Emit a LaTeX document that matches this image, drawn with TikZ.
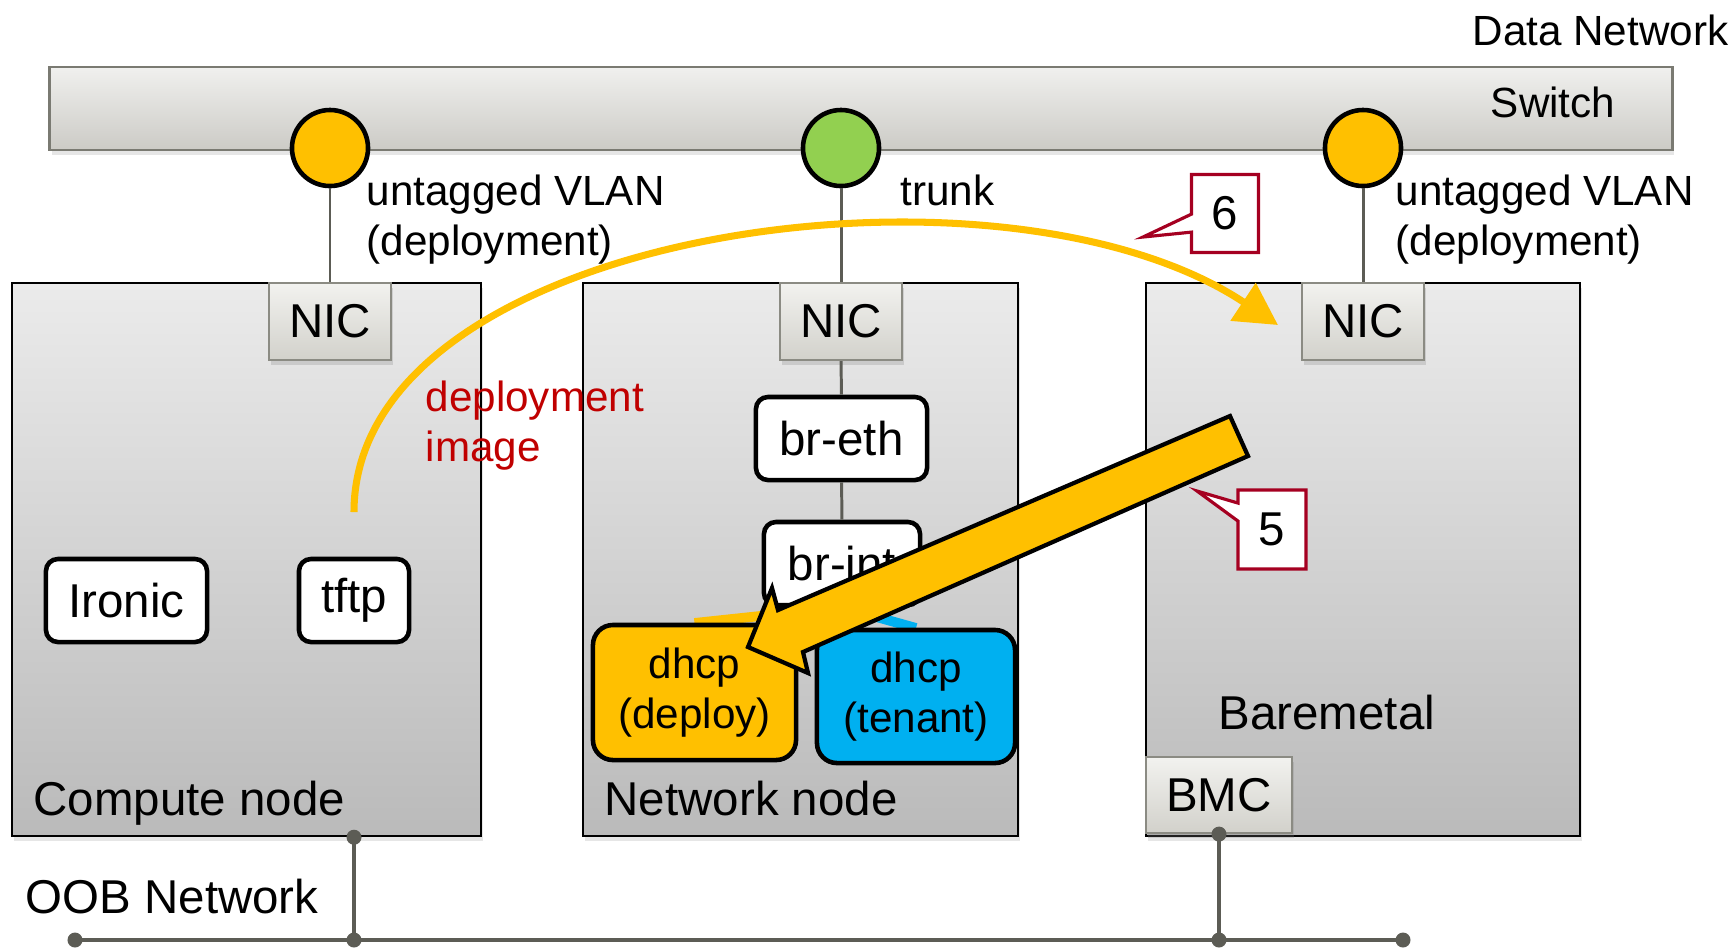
\documentclass[tikz,border=0pt]{standalone}
\usepackage{fontspec}
\setmainfont{Liberation Sans}
\usepackage{xcolor}
\usepackage{tikz}
\usetikzlibrary{arrows.meta, positioning, calc, shadows, shapes.callouts}
\definecolor{deployYellow}{RGB}{255,192,0}
\definecolor{trunkGreen}{RGB}{146,208,80}
\definecolor{tenantBlue}{RGB}{0,176,240}
\definecolor{alertRed}{RGB}{192,0,0}
\definecolor{calloutRed}{RGB}{165,0,33}
\definecolor{wireGray}{RGB}{92,92,85}
\definecolor{hostTop}{RGB}{235,235,235}
\definecolor{hostBot}{RGB}{186,186,186}
\definecolor{nicTop}{RGB}{242,242,239}
\definecolor{nicBot}{RGB}{210,209,203}
\definecolor{nicEdge}{RGB}{139,139,131}
\definecolor{switchTop}{RGB}{240,240,238}
\definecolor{switchBot}{RGB}{204,203,198}
\definecolor{switchEdge}{RGB}{122,122,114}
\newcommand{\lblfont}{\fontsize{12}{14.4}\selectfont}
\newcommand{\boxfont}{\fontsize{13.5}{16}\selectfont}

\begin{document}
\begin{tikzpicture}[x=0.01cm, y=-0.01cm,
  hostbox/.style={rectangle, draw=black, line width=0.6pt, top color=hostTop, bottom color=hostBot,
                  minimum height=5.53cm,
                  drop shadow={shadow xshift=0.02cm, shadow yshift=-0.05cm, opacity=0.2}},
  switchbar/.style={rectangle, draw=switchEdge, line width=0.7pt, top color=switchTop, bottom color=switchBot,
                    minimum width=16.22cm, minimum height=0.83cm,
                    drop shadow={shadow xshift=0.02cm, shadow yshift=-0.05cm, opacity=0.2}},
  nicbox/.style={rectangle, draw=nicEdge, line width=0.6pt, top color=nicTop, bottom color=nicBot,
                 minimum width=1.22cm, minimum height=0.77cm, font=\boxfont,
                 drop shadow={shadow xshift=0.02cm, shadow yshift=-0.05cm, opacity=0.25}},
  svcbox/.style={rectangle, rounded corners=0.12cm, draw=black, line width=1.3pt, fill=white,
                 minimum height=0.83cm, font=\boxfont},
  dhcpbox/.style={rectangle, rounded corners=0.2cm, draw=black, line width=1.3pt,
                  minimum height=1.35cm, font=\lblfont, align=center},
  port/.style={circle, draw=black, line width=1.3pt, minimum size=0.76cm, inner sep=0pt},
  wire/.style={draw=wireGray, line width=0.85pt},
  oobwire/.style={draw=wireGray, line width=1.2pt},
  callbox/.style={rectangle callout, draw=calloutRed, line width=0.9pt, fill=white,
                  font=\boxfont, callout pointer width=0.18cm},
  deployarrow/.style={draw=deployYellow, line width=2pt, -{Triangle[length=0.42cm, width=0.44cm]}},
  bigarrow/.style={fill=deployYellow, draw=black, line width=1.2pt, line join=miter},
  lbl/.style={inner sep=0pt, font=\lblfont},
  biglbl/.style={inner sep=0pt, font=\boxfont},
]
\useasboundingbox (0,0) rectangle (1736,947);

% Hosts
\node[hostbox, minimum width=4.69cm] at (246.5,559.5) (compute) {};
\node[hostbox, minimum width=4.35cm] at (800.5,559.5) (netnode) {};
\node[hostbox, minimum width=4.34cm] at (1363,559.5)  (bare)    {};

% Switch and data network
\node[switchbar] at (861,108.5) (switch) {};
\node[lbl] at (1553,102) (switchlbl) {Switch};
\node[lbl, anchor=east] at (1729,30) (datanet) {Data Network};

% NICs
\node[nicbox] at (330,321.5)  (nic1) {NIC};
\node[nicbox] at (841,321.5)  (nic2) {NIC};
\node[nicbox] at (1363,321.5) (nic3) {NIC};
\node[nicbox, minimum width=1.46cm, minimum height=0.76cm] at (1219,795) (bmc) {BMC};

% Switch ports
\node[port, fill=deployYellow] at (330,148)  (port1) {};
\node[port, fill=trunkGreen]   at (841,148)  (port2) {};
\node[port, fill=deployYellow] at (1363,148) (port3) {};
\node[lbl, anchor=north west, align=left] at (366,174)  (vlan1) {untagged VLAN\\(deployment)};
\node[lbl, anchor=west]                   at (900,190)  (trunk) {trunk};
\node[lbl, anchor=north west, align=left] at (1395,174) (vlan3) {untagged VLAN\\(deployment)};

\draw[wire] (port1) -- (nic1);
\draw[wire] (port2) -- (nic2);
\draw[wire] (port3) -- (nic3);

% Compute node
\node[svcbox, minimum width=1.61cm] at (126.5,600.5) (ironic) {Ironic};
\node[svcbox, minimum width=1.10cm] at (354,600.5)   (tftp)   {tftp};
\node[biglbl, anchor=base west] at (33,815) (computelbl) {Compute node};

% Network node
\node[svcbox, minimum width=1.71cm] at (841.5,438.5) (breth) {br-eth};
\node[svcbox, minimum width=1.56cm] at (842,563.5)   (brint) {br-int};
\draw[wire] (nic2) -- (breth);
\draw[wire] (breth) -- (brint);
\draw[deployYellow, line width=2.8pt] (brint.south) -- (694.5,623);
\draw[tenantBlue, line width=2.8pt] (brint.south) -- (916,628);
\node[dhcpbox, fill=deployYellow, minimum width=2.03cm] at (694.5,692.5) (dhcpdep) {dhcp\\(deploy)};
\node[dhcpbox, fill=tenantBlue, minimum width=1.98cm, minimum height=1.33cm] at (916,696.5) (dhcpten) {dhcp\\(tenant)};
\node[biglbl, anchor=base west] at (604,815) (netlbl) {Network node};

% Baremetal
\node[biglbl, anchor=base west] at (1218,729) (barelbl) {Baremetal};

% OOB network
\node[biglbl, anchor=base west] at (25,913) (oobtitle) {OOB Network};
\coordinate (oobL) at (75,940);
\coordinate (oobR) at (1403,940);
\coordinate (cmpoob) at (tftp |- compute.south);
\coordinate (oobC) at (tftp |- oobL);
\coordinate (oobB) at (bmc |- oobL);
\draw[oobwire] (oobL) -- (oobR);
\draw[oobwire] (cmpoob) -- (oobC);
\draw[oobwire] (bmc.south) -- (oobB);
\fill[wireGray] (oobL) circle (0.075cm) (oobC) circle (0.075cm) (oobB) circle (0.075cm)
  (oobR) circle (0.075cm) (cmpoob) circle (0.075cm) (bmc.south) circle (0.075cm);

% Step 5: DHCP answer
\draw[bigarrow] (1230,416) -- (778,610) -- (772,588) -- (748,647) -- (808,673) -- (803,652) -- (1248,456) -- cycle;
\coordinate (tip5) at (1197,491);
\node[callbox, minimum width=0.68cm, minimum height=0.79cm, callout absolute pointer={(tip5)}] at (1272,529.5) (step5) {5};

% Step 6: image transfer
\coordinate (imgfrom) at (354,512);
\coordinate (imgto) at (1278,325);
\draw[deployarrow] (imgfrom) .. controls (354,230) and (1000,140) .. (imgto);
\node[lbl, anchor=north west, align=left, text=alertRed] at (425,380) (imglbl) {deployment\\image};
\coordinate (tip6) at (1143,237);
\node[callbox, minimum width=0.67cm, minimum height=0.78cm, callout absolute pointer={(tip6)}] at (1225,213.5) (step6) {6};

\end{tikzpicture}
\end{document}
